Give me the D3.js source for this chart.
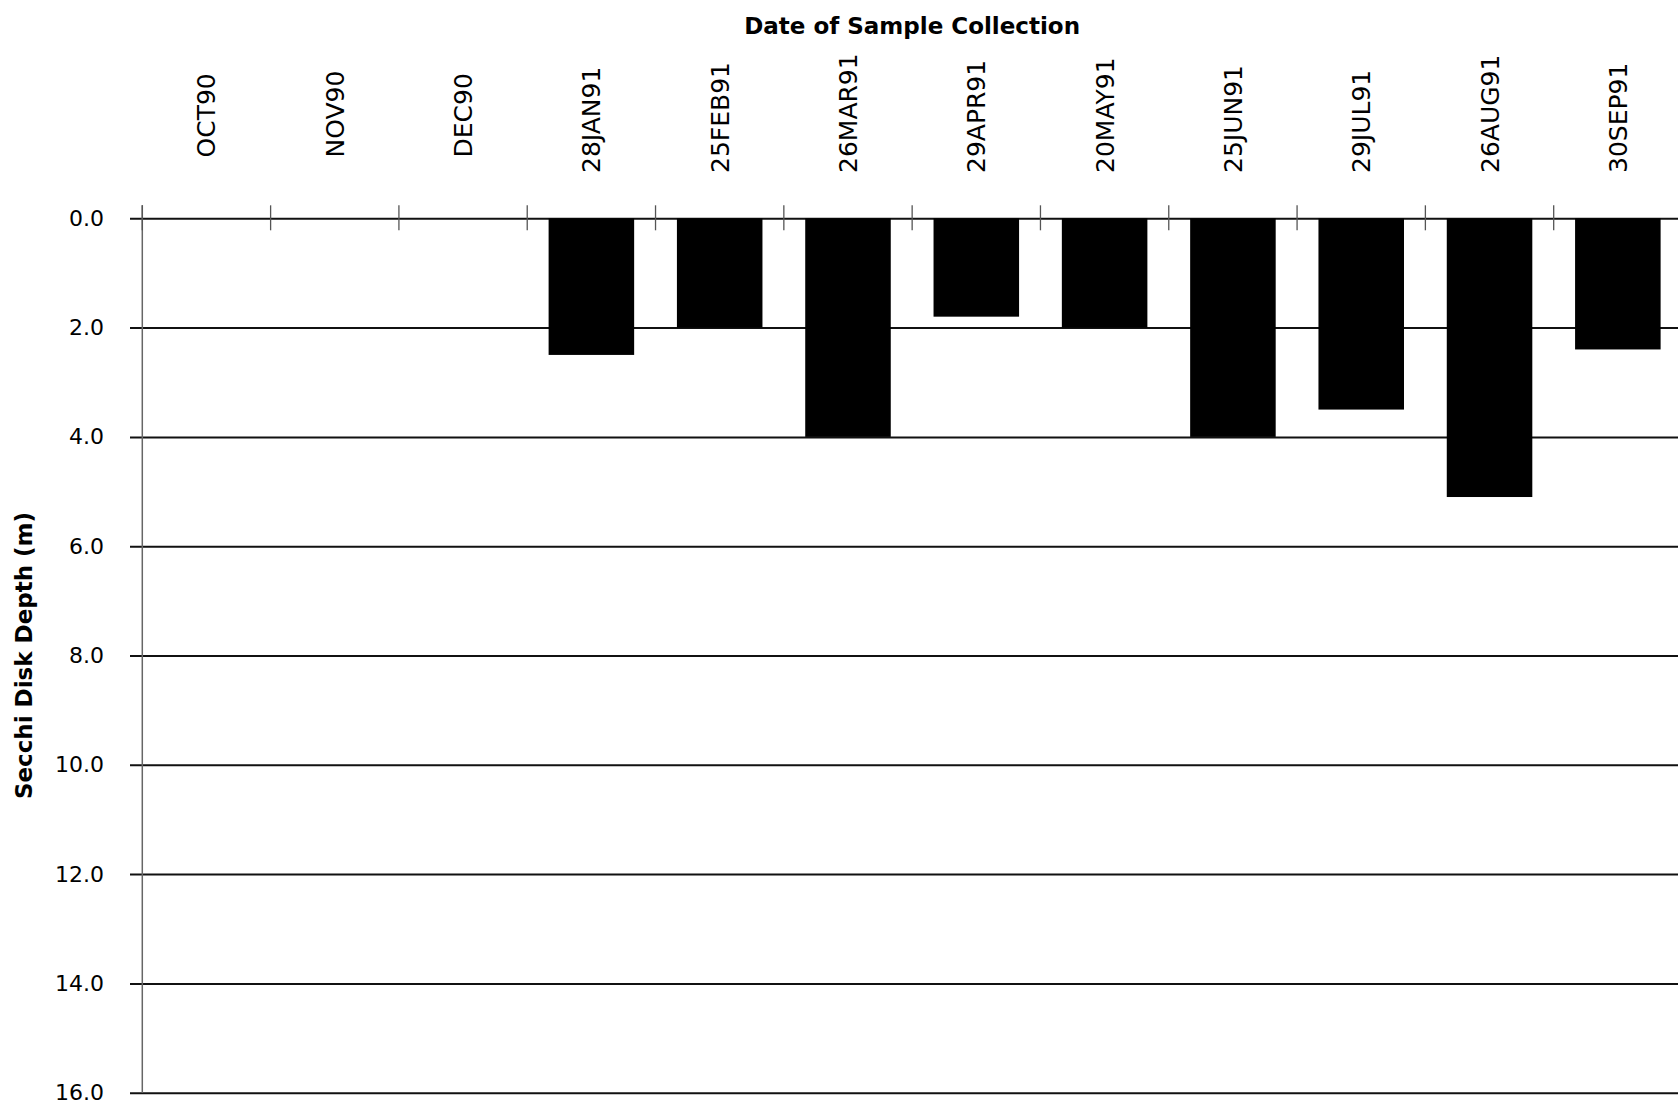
<!DOCTYPE html>
<html>
<head>
<meta charset="utf-8">
<script src="https://cdn.jsdelivr.net/npm/d3@7"></script>
<style>
  html, body { margin: 0; padding: 0; background: #fff; }
  svg { display: block; }
  text { font-family: "DejaVu Sans", sans-serif; fill: #000; }
</style>
</head>
<body>
<svg id="chart" width="1678" height="1108"></svg>
<script>
// ---- data ----
const categories = ["OCT90","NOV90","DEC90","28JAN91","25FEB91","26MAR91","29APR91","20MAY91","25JUN91","29JUL91","26AUG91","30SEP91"];
const secchiDepth = [null, null, null, 2.5, 2.0, 4.0, 1.8, 2.0, 4.0, 3.5, 5.1, 2.4];
const yTicks = [0, 2, 4, 6, 8, 10, 12, 14, 16];
const xTitle = "Date of Sample Collection";
const yTitle = "Secchi Disk Depth (m)";

// ---- layout ----
const W = 1678, H = 1108;
const plotLeft = 142.3, plotRight = 1682, plotTop = 218.3, plotBottom = 1092.7;
const svg = d3.select("#chart");

const x = d3.scaleBand().domain(categories).range([plotLeft, plotRight])
  .paddingInner(1/3).paddingOuter(1/6);
const y = d3.scaleLinear().domain([0, 16]).range([plotTop, plotBottom]);

// gridlines + y tick labels
const gridX = 130;
const gy = svg.append("g").attr("transform", `translate(${gridX},0)`)
  .call(d3.axisLeft(y).tickValues(yTicks).tickFormat(d3.format(".1f"))
    .tickSize(-(W - gridX)).tickPadding(26));
gy.select(".domain").remove();
gy.selectAll(".tick line").attr("stroke", "#111").attr("stroke-width", 2);
gy.selectAll(".tick text").attr("font-size", 22).attr("font-family", "DejaVu Sans")
  .attr("fill", "#000");

// y axis line
svg.append("line")
  .attr("x1", plotLeft).attr("x2", plotLeft)
  .attr("y1", y(0) - 13).attr("y2", y(16))
  .attr("stroke", "#666").attr("stroke-width", 1.5);

// category boundary ticks
const step = x.step();
svg.append("g").selectAll("line")
  .data(categories.map((c, i) => i))
  .join("line")
  .attr("x1", i => x.range()[0] + i * step)
  .attr("x2", i => x.range()[0] + i * step)
  .attr("y1", y(0) - 13).attr("y2", y(0) + 12)
  .attr("stroke", "#555").attr("stroke-width", 1.3);

// bars
svg.append("g").selectAll("rect")
  .data(categories.map((c, i) => ({c, v: secchiDepth[i]})).filter(d => d.v != null))
  .join("rect")
  .attr("x", d => x(d.c))
  .attr("width", x.bandwidth())
  .attr("y", y(0))
  .attr("height", d => y(d.v) - y(0))
  .attr("fill", "#000");

// x category labels (rotated)
svg.append("g").selectAll("text")
  .data(categories)
  .join("text")
  .attr("transform", d => `translate(${x(d) + x.bandwidth() / 2},${d.length <= 5 ? 157.5 : 173}) rotate(-90)`)
  .attr("dy", "0.36em")
  .attr("text-anchor", "start")
  .attr("font-size", 25)
  .text(d => d);

// titles
svg.append("text")
  .attr("x", (plotLeft + plotRight) / 2).attr("y", 34)
  .attr("text-anchor", "middle")
  .attr("font-size", 23).attr("font-weight", "bold")
  .text(xTitle);

svg.append("text")
  .attr("transform", `translate(32,${(plotTop + plotBottom) / 2}) rotate(-90)`)
  .attr("text-anchor", "middle")
  .attr("font-size", 23).attr("font-weight", "bold")
  .text(yTitle);
</script>
</body>
</html>
